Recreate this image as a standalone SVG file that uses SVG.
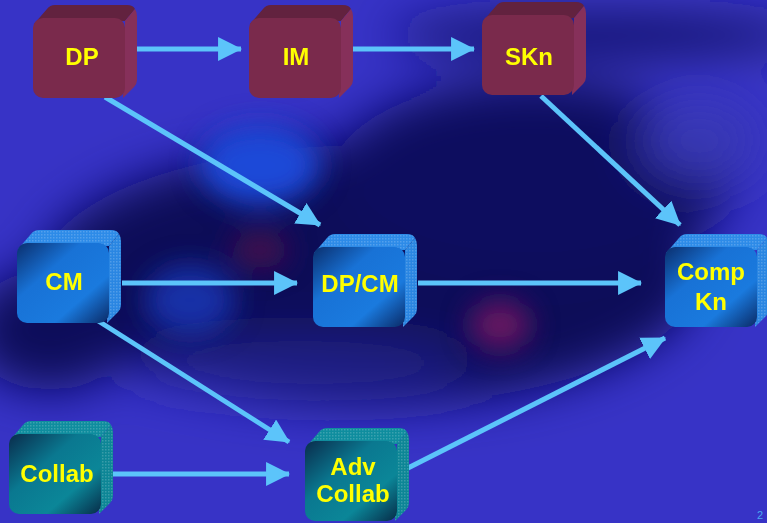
<svg xmlns="http://www.w3.org/2000/svg" width="767" height="523" viewBox="0 0 767 523">
<defs>
<style>
.lbl{font-family:"Liberation Sans",Arial,sans-serif;font-weight:bold;font-size:24px;fill:#ffff00;text-anchor:middle}
.con line{stroke:#5cc4fa;stroke-width:5;fill:none;marker-end:url(#ah)}
.mr .top{fill:#62223f}.mr .side{fill:#86305a}.mr .front{fill:#7a2a4c}.mr .tex{fill:none}
.bl .top{fill:#2d8be8}.bl .side{fill:#2a86e2}.bl .front{fill:url(#gBlue)}
.tl .top{fill:#0f8d9e}.tl .side{fill:#0d8696}.tl .front{fill:url(#gTeal)}
.bl .tex,.tl .tex{fill:url(#dots)}
</style>
<marker id="ah" markerUnits="userSpaceOnUse" markerWidth="24" markerHeight="24" viewBox="0 0 22 22" refX="21" refY="11" orient="auto">
<path d="M0,0 L22,11 L0,22 Z" fill="#5cc4fa"/>
</marker>
<linearGradient id="gBlue" x1="0" y1="0" x2="1" y2="1">
<stop offset="0" stop-color="#0a2f6e"/>
<stop offset="0.35" stop-color="#1872d6"/>
<stop offset="0.7" stop-color="#1a7ade"/>
<stop offset="1" stop-color="#0a2a66"/>
</linearGradient>
<linearGradient id="gTeal" x1="0" y1="0" x2="1" y2="1">
<stop offset="0" stop-color="#0a2c4c"/>
<stop offset="0.38" stop-color="#0a7890"/>
<stop offset="0.7" stop-color="#0b8698"/>
<stop offset="1" stop-color="#072c48"/>
</linearGradient>
<pattern id="dots" width="3" height="3" patternUnits="userSpaceOnUse">
<rect width="1.5" height="1.5" fill="#ffffff" fill-opacity="0.18"/>
</pattern>
<filter id="blur" filterUnits="userSpaceOnUse" x="-300" y="-300" width="1400" height="1200"><feGaussianBlur stdDeviation="24"/></filter>
<filter id="blur2" filterUnits="userSpaceOnUse" x="-300" y="-300" width="1400" height="1200"><feGaussianBlur stdDeviation="14"/></filter>
</defs>

<g id="background">
<rect width="767" height="523" fill="#3733c6"/>
<g filter="url(#blur)">
<ellipse cx="370" cy="275" rx="330" ry="130" fill="#0b0c58"/>
<ellipse cx="530" cy="180" rx="200" ry="100" fill="#0d0e5e"/>
<ellipse cx="600" cy="35" rx="210" ry="22" fill="#15166a"/>
<ellipse cx="50" cy="330" rx="80" ry="60" fill="#0c0d5a"/>
<ellipse cx="700" cy="140" rx="60" ry="40" fill="#3838b4"/>
<ellipse cx="300" cy="365" rx="170" ry="25" fill="#23238a"/>
</g>
<g filter="url(#blur2)">
<ellipse cx="260" cy="165" rx="60" ry="40" fill="#1c4ad8"/>
<ellipse cx="190" cy="300" rx="45" ry="35" fill="#1a3ec8" opacity="0.7"/>
<ellipse cx="500" cy="325" rx="30" ry="24" fill="#6a1262"/>
<ellipse cx="260" cy="250" rx="28" ry="18" fill="#45104e"/>
</g>
</g>

<g id="connectors" class="con">
<line x1="137" y1="49" x2="241" y2="49"/>
<line x1="352" y1="49" x2="474" y2="49"/>
<line x1="105" y1="97" x2="320" y2="225"/>
<line x1="541" y1="96" x2="680" y2="225"/>
<line x1="122" y1="283" x2="297" y2="283"/>
<line x1="418" y1="283" x2="641" y2="283"/>
<line x1="92" y1="317" x2="289" y2="442"/>
<line x1="105" y1="474" x2="289" y2="474"/>
<line x1="408" y1="468" x2="665" y2="338"/>
</g>

<g id="node-dp" class="mr" transform="translate(33,18)">
<path class="top" d="M1,6 L14,-9 Q17,-13 22,-13 L94,-13 Q100,-13 102,-9 L92,3 Z"/>
<path class="side" d="M92,3 L102,-9 Q104,-6 104,-2 L104,62 Q104,66 101,69 L90,80 Z"/>
<rect class="front" x="0" y="0" width="92" height="80" rx="10"/>
<text class="lbl" x="49" y="47">DP</text></g>
<g id="node-im" class="mr" transform="translate(249,18)">
<path class="top" d="M1,6 L14,-9 Q17,-13 22,-13 L94,-13 Q100,-13 102,-9 L92,3 Z"/>
<path class="side" d="M92,3 L102,-9 Q104,-6 104,-2 L104,62 Q104,66 101,69 L90,80 Z"/>
<rect class="front" x="0" y="0" width="92" height="80" rx="10"/>
<text class="lbl" x="47" y="47">IM</text></g>
<g id="node-skn" class="mr" transform="translate(482,15)">
<path class="top" d="M1,6 L14,-9 Q17,-13 22,-13 L94,-13 Q100,-13 102,-9 L92,3 Z"/>
<path class="side" d="M92,3 L102,-9 Q104,-6 104,-2 L104,62 Q104,66 101,69 L90,80 Z"/>
<rect class="front" x="0" y="0" width="92" height="80" rx="10"/>
<text class="lbl" x="47" y="50">SKn</text></g>
<g id="node-cm" class="bl" transform="translate(17,243)">
<path class="top" d="M1,6 L14,-9 Q17,-13 22,-13 L94,-13 Q100,-13 102,-9 L92,3 Z"/>
<path class="side" d="M92,3 L102,-9 Q104,-6 104,-2 L104,62 Q104,66 101,69 L90,80 Z"/>
<path class="tex" d="M1,6 L14,-9 Q17,-13 22,-13 L94,-13 Q100,-13 102,-9 Q104,-6 104,-2 L104,62 Q104,66 101,69 L90,80 L92,3 Z"/>
<rect class="front" x="0" y="0" width="92" height="80" rx="10"/>
<text class="lbl" x="47" y="47">CM</text></g>
<g id="node-dpcm" class="bl" transform="translate(313,247)">
<path class="top" d="M1,6 L14,-9 Q17,-13 22,-13 L94,-13 Q100,-13 102,-9 L92,3 Z"/>
<path class="side" d="M92,3 L102,-9 Q104,-6 104,-2 L104,62 Q104,66 101,69 L90,80 Z"/>
<path class="tex" d="M1,6 L14,-9 Q17,-13 22,-13 L94,-13 Q100,-13 102,-9 Q104,-6 104,-2 L104,62 Q104,66 101,69 L90,80 L92,3 Z"/>
<rect class="front" x="0" y="0" width="92" height="80" rx="10"/>
<text class="lbl" x="47" y="45">DP/CM</text></g>
<g id="node-compkn" class="bl" transform="translate(665,247)">
<path class="top" d="M1,6 L14,-9 Q17,-13 22,-13 L94,-13 Q100,-13 102,-9 L92,3 Z"/>
<path class="side" d="M92,3 L102,-9 Q104,-6 104,-2 L104,62 Q104,66 101,69 L90,80 Z"/>
<path class="tex" d="M1,6 L14,-9 Q17,-13 22,-13 L94,-13 Q100,-13 102,-9 Q104,-6 104,-2 L104,62 Q104,66 101,69 L90,80 L92,3 Z"/>
<rect class="front" x="0" y="0" width="92" height="80" rx="10"/>
<text class="lbl" x="46" y="33">Comp</text><text class="lbl" x="46" y="63">Kn</text></g>
<g id="node-collab" class="tl" transform="translate(9,434)">
<path class="top" d="M1,6 L14,-9 Q17,-13 22,-13 L94,-13 Q100,-13 102,-9 L92,3 Z"/>
<path class="side" d="M92,3 L102,-9 Q104,-6 104,-2 L104,62 Q104,66 101,69 L90,80 Z"/>
<path class="tex" d="M1,6 L14,-9 Q17,-13 22,-13 L94,-13 Q100,-13 102,-9 Q104,-6 104,-2 L104,62 Q104,66 101,69 L90,80 L92,3 Z"/>
<rect class="front" x="0" y="0" width="92" height="80" rx="10"/>
<text class="lbl" x="48" y="48">Collab</text></g>
<g id="node-advcollab" class="tl" transform="translate(305,441)">
<path class="top" d="M1,6 L14,-9 Q17,-13 22,-13 L94,-13 Q100,-13 102,-9 L92,3 Z"/>
<path class="side" d="M92,3 L102,-9 Q104,-6 104,-2 L104,62 Q104,66 101,69 L90,80 Z"/>
<path class="tex" d="M1,6 L14,-9 Q17,-13 22,-13 L94,-13 Q100,-13 102,-9 Q104,-6 104,-2 L104,62 Q104,66 101,69 L90,80 L92,3 Z"/>
<rect class="front" x="0" y="0" width="92" height="80" rx="10"/>
<text class="lbl" x="48" y="34">Adv</text><text class="lbl" x="48" y="61">Collab</text></g>

<text x="757" y="519" style="font-family:'Liberation Sans',Arial,sans-serif;font-size:11px;fill:#4aa8f0">2</text>
</svg>
